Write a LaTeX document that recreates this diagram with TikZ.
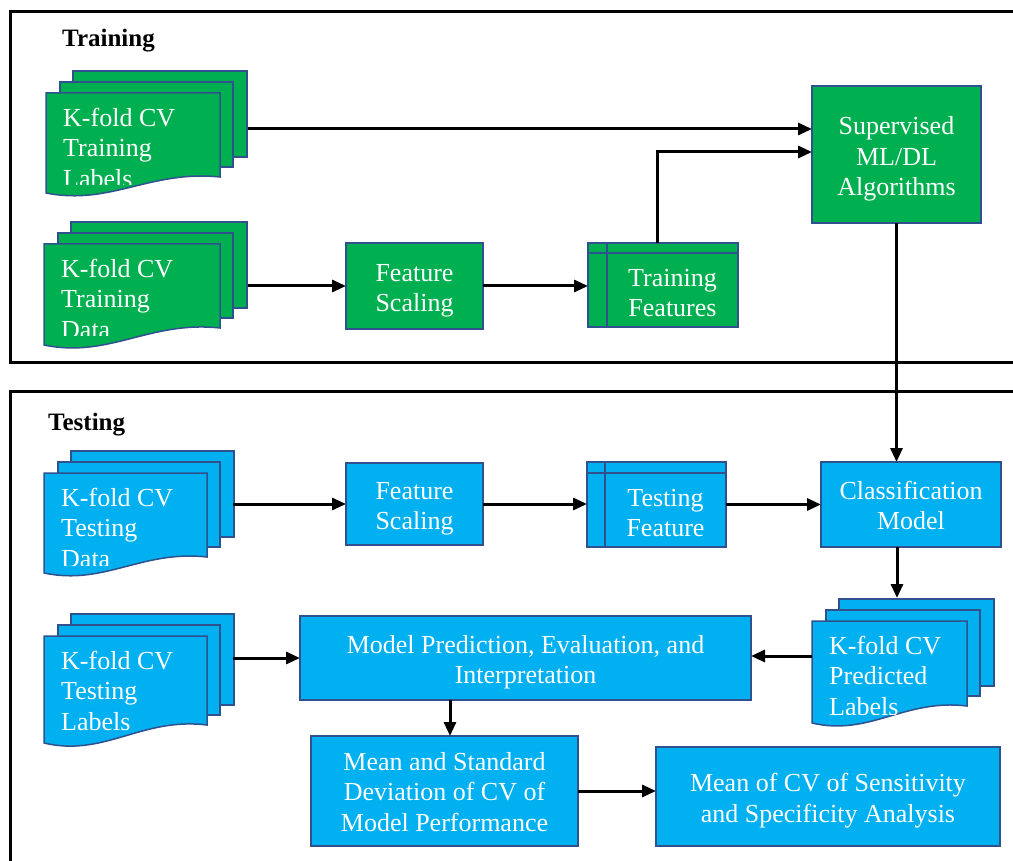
\documentclass[tikz,border=0pt]{standalone}
\usepackage{fontspec}
\setmainfont{Liberation Serif}
\usetikzlibrary{arrows.meta,calc}
\definecolor{grn}{RGB}{0,176,80}
\definecolor{blu}{RGB}{0,176,240}
\definecolor{edgeblue}{RGB}{47,82,143}
\newcommand{\tp}{\rule{0pt}{27pt}}
\newcommand{\tq}{\rule{0pt}{20pt}}
\tikzset{
  box/.style={draw=edgeblue, line width=1.5pt, text=white, align=center, inner sep=0pt, outer sep=0pt, font=\fontsize{26}{30.5}\selectfont},
  sheet/.style={draw=edgeblue, line width=1.5pt},
  doctext/.style={text=white, align=left, anchor=west, inner sep=0pt, font=\fontsize{26}{30.5}\selectfont},
  arr/.style={line width=3pt, -{Triangle[length=14pt,width=12pt]}},
  frameline/.style={line width=3pt},
  sectitle/.style={anchor=west, inner sep=0pt, font=\bfseries\fontsize{25}{30}\selectfont}
}
% #1 name, #2 fill, #3 L, #4 T, #5 R, #6 bottom-right y, #7 bottom-left y, #8 text
\newcommand{\mdoc}[8]{%
  \pgfmathsetmacro\mdw{#5-#3}%
  \pgfmathsetmacro\mdd{#7-#6}%
  \pgfmathsetmacro\mdax{#3+0.37*\mdw}%
  \pgfmathsetmacro\mday{#7+0.8*\mdd}%
  \pgfmathsetmacro\mdbx{#3+0.6*\mdw}%
  \pgfmathsetmacro\mdby{#6-0.45*\mdd}%
  \draw[sheet,fill=#2] (#3+27,#4-22) rectangle (#5+27,#6-20);
  \draw[sheet,fill=#2] (#3+14,#4-11) rectangle (#5+13,#6-10);
  \draw[sheet,fill=#2] (#3,#4) -- (#5,#4) -- (#5,#6) .. controls (\mdbx,\mdby) and (\mdax,\mday) .. (#3,#7) -- cycle;
  \begin{scope}
    \clip (#3,#4) rectangle (#5,#6+8);
    \node[doctext] (#1) at (#3+17,#4+54.5) {#8};
  \end{scope}}
\begin{document}
\begin{tikzpicture}[x=1pt,y=-1pt]
\clip (0,0) rectangle (1013,861);
\fill[white] (0,0) rectangle (1013,861);
% frames
\draw[frameline] (1030,12) -- (10,12) -- (10,362) -- (1030,362);
\draw[frameline] (1030,391) -- (10,391) -- (10,880);
\node[sectitle] (ttrain) at (62,41) {Training};
\node[sectitle] (ttest) at (48,425) {Testing};

% training section
\mdoc{trlab}{grn}{46}{93}{220}{177}{193}{K-fold CV\\Training\\Labels}
\mdoc{trdat}{grn}{44}{244}{220}{328}{345}{K-fold CV\\Training\\Data}
\node[box, fill=grn, minimum width=169pt, minimum height=137pt] (sup) at (896.5,154.5) {\tp Supervised\\ML/DL\\Algorithms};
\node[box, fill=grn, minimum width=137pt, minimum height=86pt] (fs1) at (414.5,286) {\tp Feature\\Scaling};
\node[box, fill=grn, minimum width=150pt, minimum height=84pt] (tf) at (663,285) {};
\draw[sheet] ([xshift=19pt]tf.north west) -- ([xshift=19pt]tf.south west);
\draw[sheet] ([yshift=-10pt]tf.north west) -- ([yshift=-10pt]tf.north east);
\node[box, draw=none] (tftext) at (672.5,288) {\tp Training\\Features};

% testing section
\mdoc{tsdat}{blu}{44}{473}{207}{557}{573}{K-fold CV\\Testing\\Data}
\mdoc{tslab}{blu}{44}{636}{207}{725}{743}{K-fold CV\\Testing\\Labels}
\mdoc{prlab}{blu}{812}{621}{967}{706}{723}{K-fold CV\\Predicted\\Labels}
\node[box, fill=blu, minimum width=137pt, minimum height=82pt] (fs2) at (414.5,504) {\tp Feature\\Scaling};
\node[box, fill=blu, minimum width=139pt, minimum height=85pt] (tsf) at (656.5,504.5) {};
\draw[sheet] ([xshift=18pt]tsf.north west) -- ([xshift=18pt]tsf.south west);
\draw[sheet] ([yshift=-11pt]tsf.north west) -- ([yshift=-11pt]tsf.north east);
\node[box, draw=none] (tsftext) at (665.5,508) {\tp Testing\\Feature};
\node[box, fill=blu, minimum width=180pt, minimum height=85pt] (cls) at (911,504.5) {\tq Classification\\Model};
\node[box, fill=blu, minimum width=451pt, minimum height=84pt] (mp) at (525.5,658) {\tp Model Prediction, Evaluation, and\\Interpretation};
\node[box, fill=blu, minimum width=267pt, minimum height=110pt] (ms) at (444.5,791) {\tq Mean and Standard\\Deviation of CV of\\Model Performance};
\node[box, fill=blu, minimum width=344pt, minimum height=99pt] (ss) at (828,796.5) {\tp Mean of CV of Sensitivity\\and Specificity Analysis};

% connectors
\coordinate (tlo) at (248,129);
\draw[arr] (tlo) -- (tlo -| sup.west);
\coordinate (tdo) at (248,286);
\draw[arr] (tdo) -- (tdo -| fs1.west);
\draw[arr] (fs1.east) -- (fs1.east -| tf.west);
\coordinate (tfu) at (657,152);
\draw[arr] (tfu |- tf.north) -- (tfu) -- (tfu -| sup.west);
\draw[arr] (sup.south) -- (sup.south |- cls.north);
\coordinate (tdo2) at (233,504);
\draw[arr] (tdo2) -- (tdo2 -| fs2.west);
\draw[arr] (fs2.east) -- (fs2.east -| tsf.west);
\draw[arr] (tsf.east) -- (tsf.east -| cls.west);
\coordinate (pli) at (897,598);
\draw[arr] (pli |- cls.south) -- (pli);
\coordinate (plo) at (812,656);
\draw[arr] (plo) -- (plo -| mp.east);
\coordinate (tlbo) at (233,658);
\draw[arr] (tlbo) -- (tlbo -| mp.west);
\coordinate (mpd) at (450,736);
\draw[arr] (mpd |- mp.south) -- (mpd |- ms.north);
\draw[arr] (ms.east) -- (ms.east -| ss.west);
\end{tikzpicture}
\end{document}
